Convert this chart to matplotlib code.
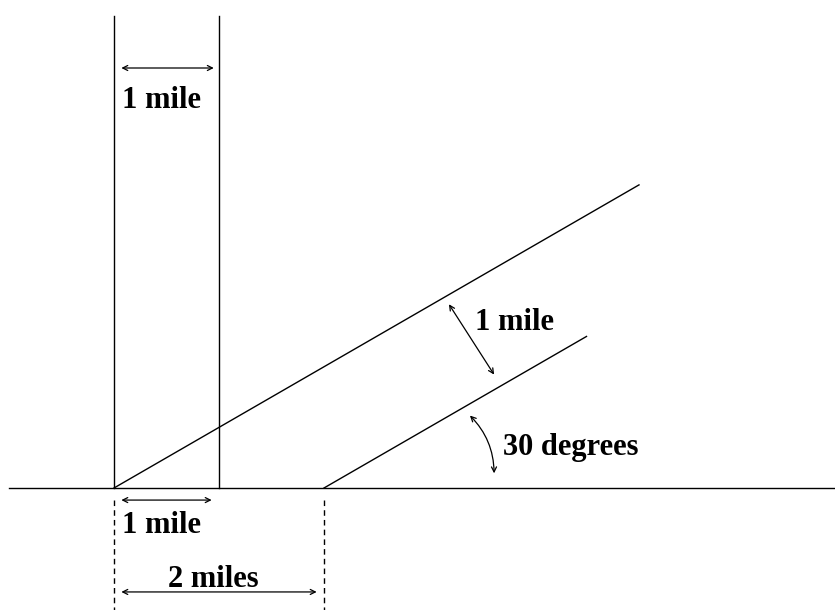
import matplotlib
matplotlib.use("Agg")
import matplotlib.pyplot as plt
import numpy as np

# geometry in miles (origin where the first road meets the ground line)
angle_deg = 30
slope = np.tan(np.radians(angle_deg))

ground_x = [-1.0, 6.9]
vert_x = [0, 1]
vert_top = 4.5
diag1_x = [0, 5]
diag2_x = [2, 4.5]
dash_x = [0, 2]

labels = ["1 mile", "1 mile", "2 miles", "1 mile", "30 degrees"]

fig = plt.figure(figsize=(8.35, 6.1), dpi=100)
ax = fig.add_axes([0, 0, 1, 1])
ax.set_xlim(-114 / 105, 721 / 105)
ax.set_ylim(-122 / 105, 488 / 105)
ax.axis("off")

lw = 1.0
ax.plot(ground_x, [0, 0], color="black", lw=lw)
for vx in vert_x:
    ax.plot([vx, vx], [0, vert_top], color="black", lw=lw)
ax.plot(diag1_x, [(x - diag1_x[0]) * slope for x in diag1_x], color="black", lw=lw)
ax.plot(diag2_x, [(x - diag2_x[0]) * slope for x in diag2_x], color="black", lw=lw)
for dx in dash_x:
    ax.plot([dx, dx], [-0.11, -1.2], color="black", lw=lw, ls=(0, (4, 3)))

arrow = dict(arrowstyle="<->", color="black", lw=0.9, shrinkA=0, shrinkB=0,
             mutation_scale=9)
ax.annotate("", xy=(0.07, 4.0), xytext=(0.95, 4.0), arrowprops=arrow)
ax.annotate("", xy=(0.07, -0.115), xytext=(0.93, -0.115), arrowprops=arrow)
ax.annotate("", xy=(0.07, -0.99), xytext=(1.93, -0.99), arrowprops=arrow)
ax.annotate("", xy=(3.19, 1.75), xytext=(3.62, 1.08), arrowprops=arrow)

curved = dict(arrow, connectionstyle="arc3,rad=0.2")
ax.annotate("", xy=(3.39, 0.69), xytext=(3.62, 0.14), arrowprops=curved)

font = dict(family="Liberation Serif", weight="bold", fontsize=22, color="black")
ax.text(0.075, 3.62, labels[0], **font)
ax.text(0.075, -0.43, labels[1], **font)
ax.text(0.51, -0.94, labels[2], **font)
ax.text(3.44, 1.505, labels[3], **font)
ax.text(3.70, 0.31, labels[4], **font)

fig.savefig("out.png", dpi=100)
